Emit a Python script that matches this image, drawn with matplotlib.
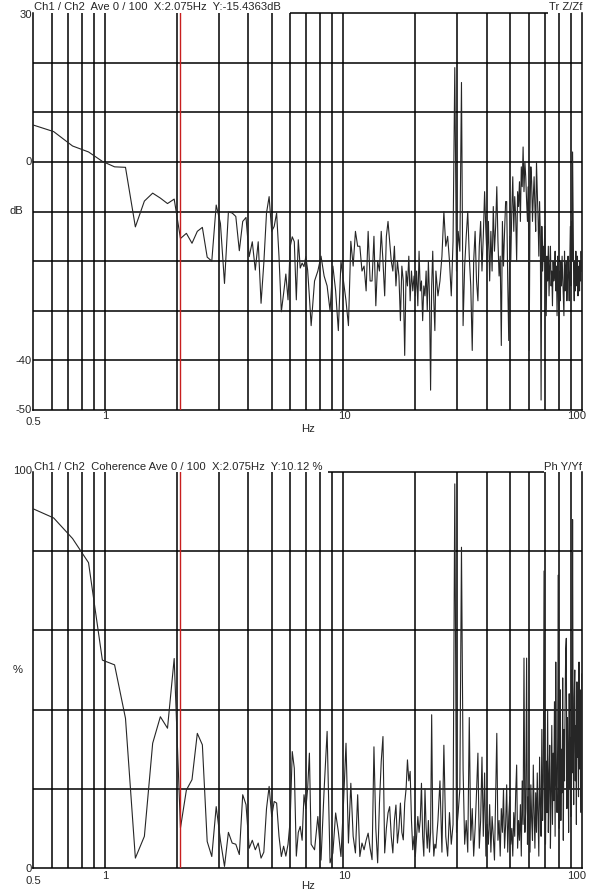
import numpy as np
import matplotlib
matplotlib.use("Agg")
import matplotlib.pyplot as plt

plt.rcParams['font.family'] = ['Liberation Sans', 'DejaVu Sans']

# frequency resolution of the analyser (Hz per bin)
DF = 1000.0 / 8192.0
CURSOR_HZ = 2.075

# ---------------- Transfer function (dB) ----------------
# bins 4..59, step 1
tf_seg1 = [7.6, 6.1, 3.2, 2.0, 0.1, -1.0, -1.1, -13.1, -7.9, -6.3,
           -7.3, -8.4, -7.5, -15.44, -14.4, -16.4, -14.0, -13.2, -19.2, -20.0,
           -8.7, -12.4, -24.5, -10.1, -10.3, -11.0, -17.9, -12.0, -11.2, -19.1,
           -16.1, -21.8, -16.1, -28.5, -20.4, -10.3, -7.0, -14.0, -13.0, -10.3,
           -19.1, -30.2, -26.5, -22.6, -27.8, -17.1, -15.1, -16.1, -27.8, -15.7,
           -21.4, -20.4, -21.1, -19.1, -21.8, -27.2]
# bins 60..198, step 2
tf_seg2 = [-33, -24, -22, -19, -23, -25, -30, -21, -26, -34,
           -20, -24, -28, -33, -16, -21, -14, -17, -17, -22,
           -21, -26, -14, -24, -24, -15, -29, -20, -22, -14,
           -20, -27, -15, -12, -16, -20, -22, -17, -25, -20,
           -23, -32, -21, -24, -39, -22, -25, -19, -28, -22,
           -26, -23, -27, -22, -29, -18, -26, -24, -32, -25,
           -27, -22, -30, -20, -27, -46, -25, -18, -28, -34]
# bins 200..816, step 4
tf_seg3 = [-22, -27, -24, -19, -10, -17, -15, -20, -27, -16,
           19, -22, -14, -18, 16, -33, -21, -15, -10, -19,
           -25, -38, -20, -14, -24, -28, -17, -12, -22, -15,
           -6, -14, -20, -12, -24, -14, -22, -9, -18, -13,
           -5, -16, -23, -19, -37, -12, -21, -14, -8, -8,
           -24, -36, -15, -20, -10, -3, -14, -7, -11, -20,
           -6, -9, -4, -12, -1, -5, 3, -6, 0, -3,
           -8, -12, -5, -38, -10, -1, -4, -12, -7, -3,
           -9, -14, 0, -6, -11, -19, -8, -15, -48, -13,
           -22, -17, -20, -13, -22, -31, -19, -24, -17, -27,
           -21, -17, -25, -22, -29, -20, -24, -23, -18, -26,
           -21, -31, -19, -24, -40, -22, -28, -20, -25, -19,
           -23, -27, -31, -18, -26, -22, -20, -28, -24, -19,
           -23, -28, -21, -13, -25, -12, -20, 2, -12, -24,
           -28, -20, -26, -18, -22, -25, -19, -27, -23, -21,
           -26, -20, -24, -18, -22]

# ---------------- Coherence (%) ----------------
coh_seg1 = [91, 88.4, 83.2, 77.1, 52.5, 51.3, 37.8, 2.5, 8, 31.5,
            38.2, 35.3, 52.9, 10.12, 19.7, 22.3, 34, 31.1, 6.7, 2.9,
            15.5, 7, 0.4, 9, 6.3, 6, 3.4, 18.5, 16, 5,
            7, 4.6, 6.3, 2.5, 4, 15, 20.6, 13, 16.8, 16.4,
            8, 2.9, 5.5, 3, 6, 12, 29.4, 25.2, 3, 9,
            10.5, 7, 18.5, 15, 20, 29]
coh_seg2 = [6, 4.6, 13, 2, 19.7, 34.5, 1.3, 3.8, 13.9, 9.2,
            2.9, 16.4, 31.5, 6.3, 21.4, 8, 3.8, 18.5, 2.9, 6.3,
            4.6, 7, 8.8, 5, 2.1, 30.6, 10, 1.3, 16.4, 26.9,
            33.2, 3.8, 10, 13.9, 15.5, 8, 3.8, 12, 15.9, 6.3,
            10, 16.4, 9, 7.1, 16.4, 20, 27.3, 22, 24.4, 12,
            4.6, 8, 2.9, 8, 13, 9, 12.2, 21.4, 8, 3,
            20, 10, 5, 12, 4, 9, 38.7, 10, 3, 6]
coh_seg3 = [5, 12, 22, 4, 31, 8, 3, 14, 6, 11,
            97, 9, 14, 20, 81, 25, 6, 12, 4, 38,
            7, 15, 3, 10, 19, 29, 5, 12, 28, 8,
            24, 3, 11, 6, 16, 4, 13, 8, 2, 18,
            34, 7, 12, 3, 15, 9, 20, 5, 11, 21,
            4, 13, 18, 6, 10, 3, 14, 8, 19, 26,
            5, 12, 7, 16, 3, 22, 11, 53, 9, 15,
            53, 6, 18, 10, 4, 21, 12, 7, 26, 14,
            5, 19, 9, 24, 13, 3, 28, 16, 8, 35,
            12, 22, 75, 18, 6, 27, 14, 40, 9, 23,
            31, 5, 19, 36, 11, 29, 17, 42, 8, 52,
            21, 14, 33, 74, 10, 26, 45, 12, 30, 19,
            48, 7, 35, 22, 41, 55, 58, 15, 38, 27,
            9, 44, 20, 33, 13, 50, 24, 88, 31, 16,
            43, 50, 22, 36, 11, 47, 28, 39, 18, 52,
            25, 45, 33, 14, 49]

grid_x = [0.6, 0.7, 0.8, 0.9, 1, 2, 3, 4, 5, 6, 7, 8, 9, 10,
          20, 30, 40, 50, 60, 70, 80, 90]


def bins(seg1, seg2, seg3):
    k = np.concatenate([4 + np.arange(len(seg1)),
                        60 + 2 * np.arange(len(seg2)),
                        200 + 4 * np.arange(len(seg3))])
    v = np.concatenate([seg1, seg2, seg3]).astype(float)
    return k * DF, v


W, H = 590, 893
fig = plt.figure(figsize=(W / 100, H / 100), dpi=100)
TXT = '#262626'
FS = 8.1


def ftext(x, y, s, ha='left', va='center'):
    fig.text(x / W, 1 - y / H, s, ha=ha, va=va, fontsize=FS, color=TXT)


def make_axes(top_px, bot_px, ylim, ygrid, spine_seg):
    left, right = 33, 582
    ax = fig.add_axes([left / W, 1 - bot_px / H, (right - left) / W, (bot_px - top_px) / H])
    ax.set_xscale('log')
    ax.set_xlim(0.5, 100)
    ax.set_ylim(*ylim)
    ax.set_xticks(grid_x)
    ax.set_xticks([], minor=True)
    ax.set_xticklabels([])
    ax.set_yticks(ygrid)
    ax.set_yticklabels([])
    ax.tick_params(length=0, which='both')
    ax.grid(True, color='black', lw=1.1)
    ax.set_axisbelow(True)
    for s in ['left', 'bottom', 'right']:
        ax.spines[s].set_linewidth(1.1)
    ax.spines['top'].set_visible(False)
    ax.plot(spine_seg, [1, 1], transform=ax.transAxes, color='black', lw=1.1,
            clip_on=False, solid_capstyle='butt')
    ax.axvline(CURSOR_HZ, color='#c81e1e', lw=1.0, zorder=4)
    return ax


# ---- top panel ----
ax1 = make_axes(13, 410, (-50, 30), [-40, -30, -20, -10, 0, 10, 20], [0.468, 0.938])
f1, v1 = bins(tf_seg1, tf_seg2, tf_seg3)
ax1.plot(f1, v1, color='#262626', lw=0.8, zorder=3)

ftext(34, 7, "Ch1 / Ch2  Ave 0 / 100  X:2.075Hz  Y:-15.4363dB")
ftext(582, 7, "Tr Z/Zf", ha='right')
ftext(32, 15, "30", ha='right')
ftext(32, 162, "0", ha='right')
ftext(23, 211, "dB", ha='right')
ftext(32, 361, "-40", ha='right')
ftext(32, 410, "-50", ha='right')
ftext(33, 422, "0.5", ha='center')
ftext(105, 416, "1", ha='center')
ftext(344, 416, "10", ha='center')
ftext(577, 416, "100", ha='center')
ftext(308, 429, "Hz", ha='center')

# ---- bottom panel ----
ax2 = make_axes(472, 868, (0, 100), [20, 40, 60, 80], [0.537, 0.931])
f2, v2 = bins(coh_seg1, coh_seg2, coh_seg3)
ax2.plot(f2, v2, color='#262626', lw=0.8, zorder=3)

ftext(34, 467, "Ch1 / Ch2  Coherence Ave 0 / 100  X:2.075Hz  Y:10.12 %")
ftext(582, 467, "Ph Y/Yf", ha='right')
ftext(32, 471, "100", ha='right')
ftext(23, 670, "%", ha='right')
ftext(32, 869, "0", ha='right')
ftext(33, 881, "0.5", ha='center')
ftext(105, 876, "1", ha='center')
ftext(344, 876, "10", ha='center')
ftext(577, 876, "100", ha='center')
ftext(308, 886, "Hz", ha='center')

fig.savefig('out.png', dpi=100, facecolor='white')
